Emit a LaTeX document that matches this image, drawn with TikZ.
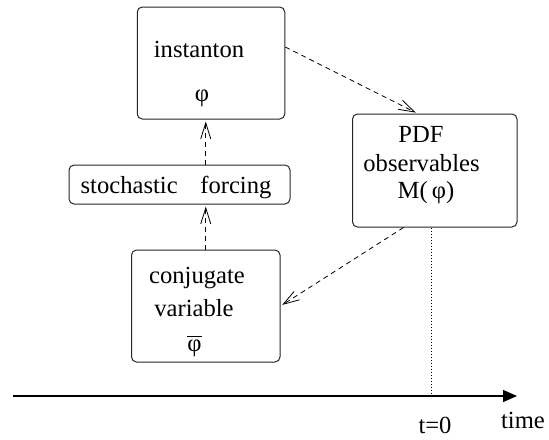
\documentclass[tikz,border=0pt]{standalone}
\usepackage{fontspec}
\setmainfont{Liberation Serif}
\usetikzlibrary{arrows.meta}

\begin{document}
\begin{tikzpicture}[
  x=0.5pt, y=-0.5pt,
  box/.style={draw=black!85, line width=0.5pt, rounded corners=2.5pt, inner sep=0pt},
  txt/.style={anchor=base, inner sep=0pt, font=\fontsize{12.3}{14}\selectfont},
  flow/.style={-{Straight Barb[length=8pt,width=5pt]}, line width=0.4pt,
    dash pattern=on 2.5pt off 2pt, shorten >=1pt},
  timeaxis/.style={-{Triangle[length=7pt,width=6pt]}, line width=0.6pt}]

  \useasboundingbox (0,0) rectangle (549,439);

  % boxes
  \node[box, minimum width=73.75pt, minimum height=56pt] (inst) at (211,63) {};
  \node[box, minimum width=110.5pt, minimum height=19.5pt] (stoch) at (179.5,184.5) {};
  \node[box, minimum width=74.25pt, minimum height=56pt] (conj) at (205.75,306) {};
  \node[box, minimum width=82.25pt, minimum height=56.5pt] (pdf) at (434.75,170.5) {};

  % texts
  \node[txt] (instA) at (199,57) {instanton};
  \node[txt] (instB) at (202,101) {φ};
  \node[txt] (stochA) at (176,193) {stochastic\hspace{0.92em}forcing};
  \node[txt] (conjA) at (197,283) {conjugate};
  \node[txt] (conjB) at (194,316) {variable};
  \node[txt] (conjC) at (194.5,351) {$\overline{\hbox{φ}}$};
  \node[txt] (pdfA) at (421,142) {PDF};
  \node[txt] (pdfB) at (421.5,171) {observables};
  \node[txt] (pdfC) at (426,198) {M(\,φ)};

  % time axis
  \coordinate (axL) at (13,396);
  \coordinate (axR) at (517,396);
  \coordinate (t0) at (431,396);
  \draw[timeaxis] (axL) -- (axR);
  \node[txt] (tzero) at (435,433) {t=0};
  \node[txt] (tlab) at (523,428) {time};

  % connectors
  \draw[flow] (conj.north) -- (conj.north |- stoch.south);
  \draw[flow] (conj.north |- stoch.north) -- (conj.north |- inst.south);
  \draw[flow] ([yshift=8pt]inst.east) -- ([xshift=-8.6pt]pdf.north);
  \draw[flow] ([xshift=-15.6pt]pdf.south) -- (conj.east);
  \draw[line width=0.5pt, dash pattern=on 0.5pt off 1pt] (pdf.south -| t0) -- (t0);
\end{tikzpicture}
\end{document}
